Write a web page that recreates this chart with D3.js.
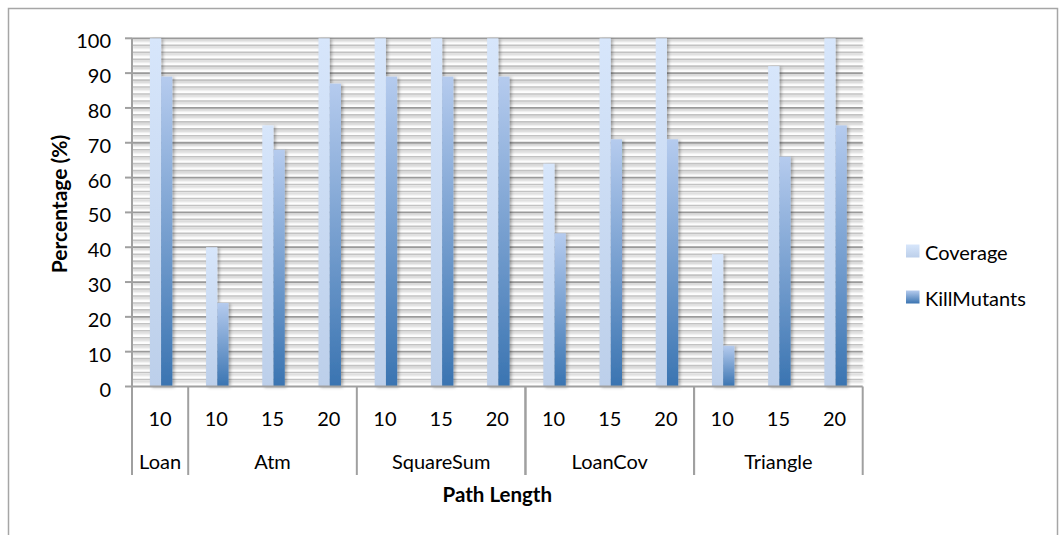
<!DOCTYPE html>
<html>
<head>
<meta charset="utf-8">
<script src="https://cdn.jsdelivr.net/npm/d3@7"></script>
<style>
  html, body { margin: 0; padding: 0; background: #fff; }
  svg { display: block; }
  text { font-family: Lato, "Open Sans", sans-serif; fill: #000; }
</style>
</head>
<body>
<svg id="chart" width="1063" height="535"></svg>
<script>
// ---- data ----
const pathLengths = ["10","10","15","20","10","15","20","10","15","20","10","15","20"];
const groupNames = ["Loan","Atm","SquareSum","LoanCov","Triangle"];
const groupOf = [0,1,1,1,2,2,2,3,3,3,4,4,4];
const coverage = [100,40,75,100,100,100,100,64,100,100,38,92,100];
const killMutants = [89,24,68,87,89,89,89,44,71,71,11.7,66,75];
const seriesNames = ["Coverage","KillMutants"];
const yTicks = [0,10,20,30,40,50,60,70,80,90,100];
const yMinorTicks = d3.range(0, 101, 2);
const yTitle = "Percentage (%)";
const xTitle = "Path Length";

// ---- layout ----
const svg = d3.select("#chart");
const L = 132, R = 862.7, T = 38.3, B = 386.5;
const x = d3.scaleBand().domain(d3.range(pathLengths.length)).range([L, R]).padding(0);
const y = d3.scaleLinear().domain([0, 100]).range([B, T]);
const barW = x.bandwidth() * 0.2;

const defs = svg.append("defs");
function grad(id, c1, c2) {
  const g = defs.append("linearGradient").attr("id", id)
    .attr("x1", 0).attr("y1", 0).attr("x2", 0).attr("y2", 1);
  g.append("stop").attr("offset", "0%").attr("stop-color", c1);
  g.append("stop").attr("offset", "100%").attr("stop-color", c2);
}
grad("gCov", "#d7e6fb", "#bccfea");
grad("gKill", "#b5cbee", "#3a74b1");
const fs = defs.append("filter").attr("id", "shadowGrid")
  .attr("x", "-5%").attr("y", "-200%").attr("width", "110%").attr("height", "500%");
fs.append("feDropShadow").attr("dx", 0.5).attr("dy", 1.8).attr("stdDeviation", 1)
  .attr("flood-color", "#000").attr("flood-opacity", 0.28);
const fb = defs.append("filter").attr("id", "shadowBar")
  .attr("x", "-30%").attr("y", "-10%").attr("width", "180%").attr("height", "120%");
fb.append("feDropShadow").attr("dx", 2).attr("dy", 1).attr("stdDeviation", 1.5)
  .attr("flood-color", "#000").attr("flood-opacity", 0.3);

// outer border
svg.append("rect").attr("x", 8.5).attr("y", 8.5).attr("width", 1049).attr("height", 600)
  .attr("fill", "#fff").attr("stroke", "#a6a6a6").attr("stroke-width", 1.5);

// gridlines
const grid = svg.append("g").attr("filter", "url(#shadowGrid)");
grid.selectAll("line.minor").data(yMinorTicks.filter(v => v % 10 !== 0)).join("line")
  .attr("x1", L).attr("x2", R).attr("y1", d => y(d)).attr("y2", d => y(d))
  .attr("stroke", "#c2c2c2").attr("stroke-width", 1.6);
grid.selectAll("line.major").data(yTicks.filter(v => v > 0)).join("line")
  .attr("x1", L).attr("x2", R).attr("y1", d => y(d)).attr("y2", d => y(d))
  .attr("stroke", "#9a9a9a").attr("stroke-width", 1.8);

// bars
const bars = svg.append("g").attr("filter", "url(#shadowBar)");
const series = [coverage, killMutants];
const fills = ["url(#gCov)", "url(#gKill)"];
series.forEach((vals, si) => {
  bars.selectAll("rect.s" + si).data(vals).join("rect")
    .attr("x", (d, i) => x(i) + x.bandwidth() / 2 - barW + si * barW + 1)
    .attr("width", barW)
    .attr("y", d => y(d))
    .attr("height", d => y(0) - y(d))
    .attr("fill", fills[si]);
});

// y axis
const axisColor = "#a0a0a0";
svg.append("line").attr("x1", L).attr("x2", L).attr("y1", T).attr("y2", 475)
  .attr("stroke", axisColor).attr("stroke-width", 2);
svg.selectAll("line.ytick").data(yTicks).join("line")
  .attr("x1", L - 7).attr("x2", L).attr("y1", d => y(d)).attr("y2", d => y(d))
  .attr("stroke", axisColor).attr("stroke-width", 2);
svg.selectAll("text.ylab").data(yTicks).join("text")
  .attr("x", 111).attr("y", d => y(d) + 10)
  .attr("text-anchor", "end").attr("font-size", 20).text(d => d);

// x axis baseline
svg.append("line").attr("x1", L).attr("x2", R).attr("y1", B).attr("y2", B)
  .attr("stroke", axisColor).attr("stroke-width", 2);

// group dividers
const groupStarts = [];
const groupEnds = [];
groupNames.forEach((g, gi) => {
  const idx = groupOf.map((v, i) => v === gi ? i : -1).filter(i => i >= 0);
  groupStarts.push(x(idx[0]));
  groupEnds.push(x(idx[idx.length - 1]) + x.bandwidth());
});
const divs = Array.from(new Set([...groupStarts, ...groupEnds])).filter(v => v > L + 1);
svg.selectAll("line.div").data(divs).join("line")
  .attr("x1", d => d).attr("x2", d => d).attr("y1", B).attr("y2", 475)
  .attr("stroke", axisColor).attr("stroke-width", 2);

// x labels
svg.selectAll("text.xlab").data(pathLengths).join("text")
  .attr("x", (d, i) => x(i) + x.bandwidth() / 2).attr("y", 426)
  .attr("text-anchor", "middle").attr("font-size", 20).text(d => d);
svg.selectAll("text.glab").data(groupNames).join("text")
  .attr("x", (d, i) => (groupStarts[i] + groupEnds[i]) / 2).attr("y", 469)
  .attr("text-anchor", "middle").attr("font-size", 20).text(d => d);

// titles
svg.append("text").attr("x", (L + R) / 2).attr("y", 502)
  .attr("text-anchor", "middle").attr("font-size", 20.5).attr("font-weight", "bold").text(xTitle);
svg.append("text").attr("transform", "translate(67,204) rotate(-90)")
  .attr("text-anchor", "middle").attr("font-size", 21).attr("font-weight", "bold").text(yTitle);

// legend
const leg = svg.append("g");
const legY = [244.5, 290.5];
seriesNames.forEach((s, i) => {
  leg.append("rect").attr("x", 906).attr("y", legY[i]).attr("width", 13.5).attr("height", 13)
    .attr("fill", fills[i]);
  leg.append("text").attr("x", 925).attr("y", legY[i] + 15.5).attr("font-size", 20).text(s);
});
</script>
</body>
</html>
